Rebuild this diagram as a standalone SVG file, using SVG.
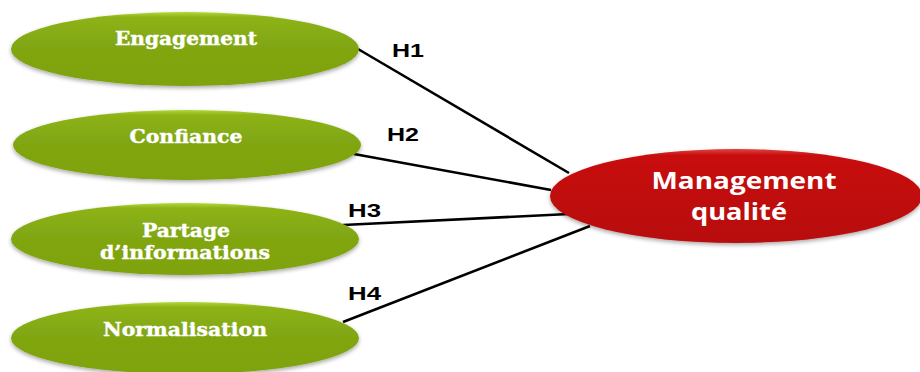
<svg xmlns="http://www.w3.org/2000/svg" width="920" height="372" viewBox="0 0 920 372">
  <defs>
    <linearGradient id="green" x1="0" y1="0" x2="0" y2="1">
      <stop offset="0" stop-color="#b4d838"/>
      <stop offset="0.07" stop-color="#8db319"/>
      <stop offset="0.5" stop-color="#80a511"/>
      <stop offset="1" stop-color="#7ea311"/>
    </linearGradient>
    <linearGradient id="red" x1="0" y1="0" x2="0" y2="1">
      <stop offset="0" stop-color="#e04040"/>
      <stop offset="0.07" stop-color="#c81010"/>
      <stop offset="0.5" stop-color="#c00a0a"/>
      <stop offset="1" stop-color="#b80808"/>
    </linearGradient>
    <filter id="shadow" x="-10%" y="-20%" width="120%" height="150%">
      <feGaussianBlur in="SourceAlpha" stdDeviation="2"/>
      <feOffset dx="0" dy="2" result="b"/>
      <feComponentTransfer><feFuncA type="linear" slope="0.35"/></feComponentTransfer>
      <feMerge><feMergeNode/><feMergeNode in="SourceGraphic"/></feMerge>
    </filter>
  </defs>
  <style>
    .leaf { fill: url(#green); filter: url(#shadow); }
    .hub { fill: url(#red); filter: url(#shadow); }
    .lbl { font-family: "DejaVu Serif", "Liberation Serif", serif; font-weight: bold; font-size: 18px; fill: #ffffff; stroke: #ffffff; stroke-width: 0.4; text-anchor: middle; }
    .hubtxt { font-family: "Open Sans", "Liberation Sans", sans-serif; font-weight: bold; font-size: 24px; fill: #ffffff; text-anchor: middle; }
    .hyp { font-family: "Liberation Sans", Arial, sans-serif; font-weight: bold; font-size: 19px; fill: #000000; }
    .link { stroke: #000000; stroke-width: 2.6; fill: none; }
  </style>

  <!-- connectors -->
  <g id="connectors">
    <line class="link" x1="358" y1="49" x2="569" y2="173"/>
    <line class="link" x1="354" y1="154" x2="551" y2="190"/>
    <line class="link" x1="343" y1="225" x2="569" y2="214"/>
    <line class="link" x1="343" y1="322" x2="590" y2="226"/>
    <text class="hyp" x="392" y="57" textLength="32" lengthAdjust="spacingAndGlyphs">H1</text>
    <text class="hyp" x="387" y="141" textLength="32" lengthAdjust="spacingAndGlyphs">H2</text>
    <text class="hyp" x="348" y="217" textLength="33" lengthAdjust="spacingAndGlyphs">H3</text>
    <text class="hyp" x="348" y="300" textLength="33" lengthAdjust="spacingAndGlyphs">H4</text>
  </g>

  <g id="engagement">
    <ellipse class="leaf" cx="185" cy="49" rx="174" ry="37"/>
    <text class="lbl" x="186" y="45" textLength="142" lengthAdjust="spacingAndGlyphs">Engagement</text>
  </g>

  <g id="confiance">
    <ellipse class="leaf" cx="187" cy="145" rx="174" ry="35"/>
    <text class="lbl" x="186" y="143" textLength="113" lengthAdjust="spacingAndGlyphs">Confiance</text>
  </g>

  <g id="partage">
    <ellipse class="leaf" cx="185" cy="239" rx="174" ry="36"/>
    <text class="lbl" x="186" y="237" textLength="88" lengthAdjust="spacingAndGlyphs">Partage</text>
    <text class="lbl" x="185" y="259" textLength="170" lengthAdjust="spacingAndGlyphs">d’informations</text>
  </g>

  <g id="normalisation">
    <ellipse class="leaf" cx="185" cy="338" rx="174" ry="36"/>
    <text class="lbl" x="185" y="336" textLength="164" lengthAdjust="spacingAndGlyphs">Normalisation</text>
  </g>

  <g id="management">
    <ellipse class="hub" cx="736" cy="196" rx="186" ry="47"/>
    <text class="hubtxt" x="744" y="189" textLength="185" lengthAdjust="spacingAndGlyphs">Management</text>
    <text class="hubtxt" x="739" y="220" textLength="96" lengthAdjust="spacingAndGlyphs">qualité</text>
  </g>
</svg>
